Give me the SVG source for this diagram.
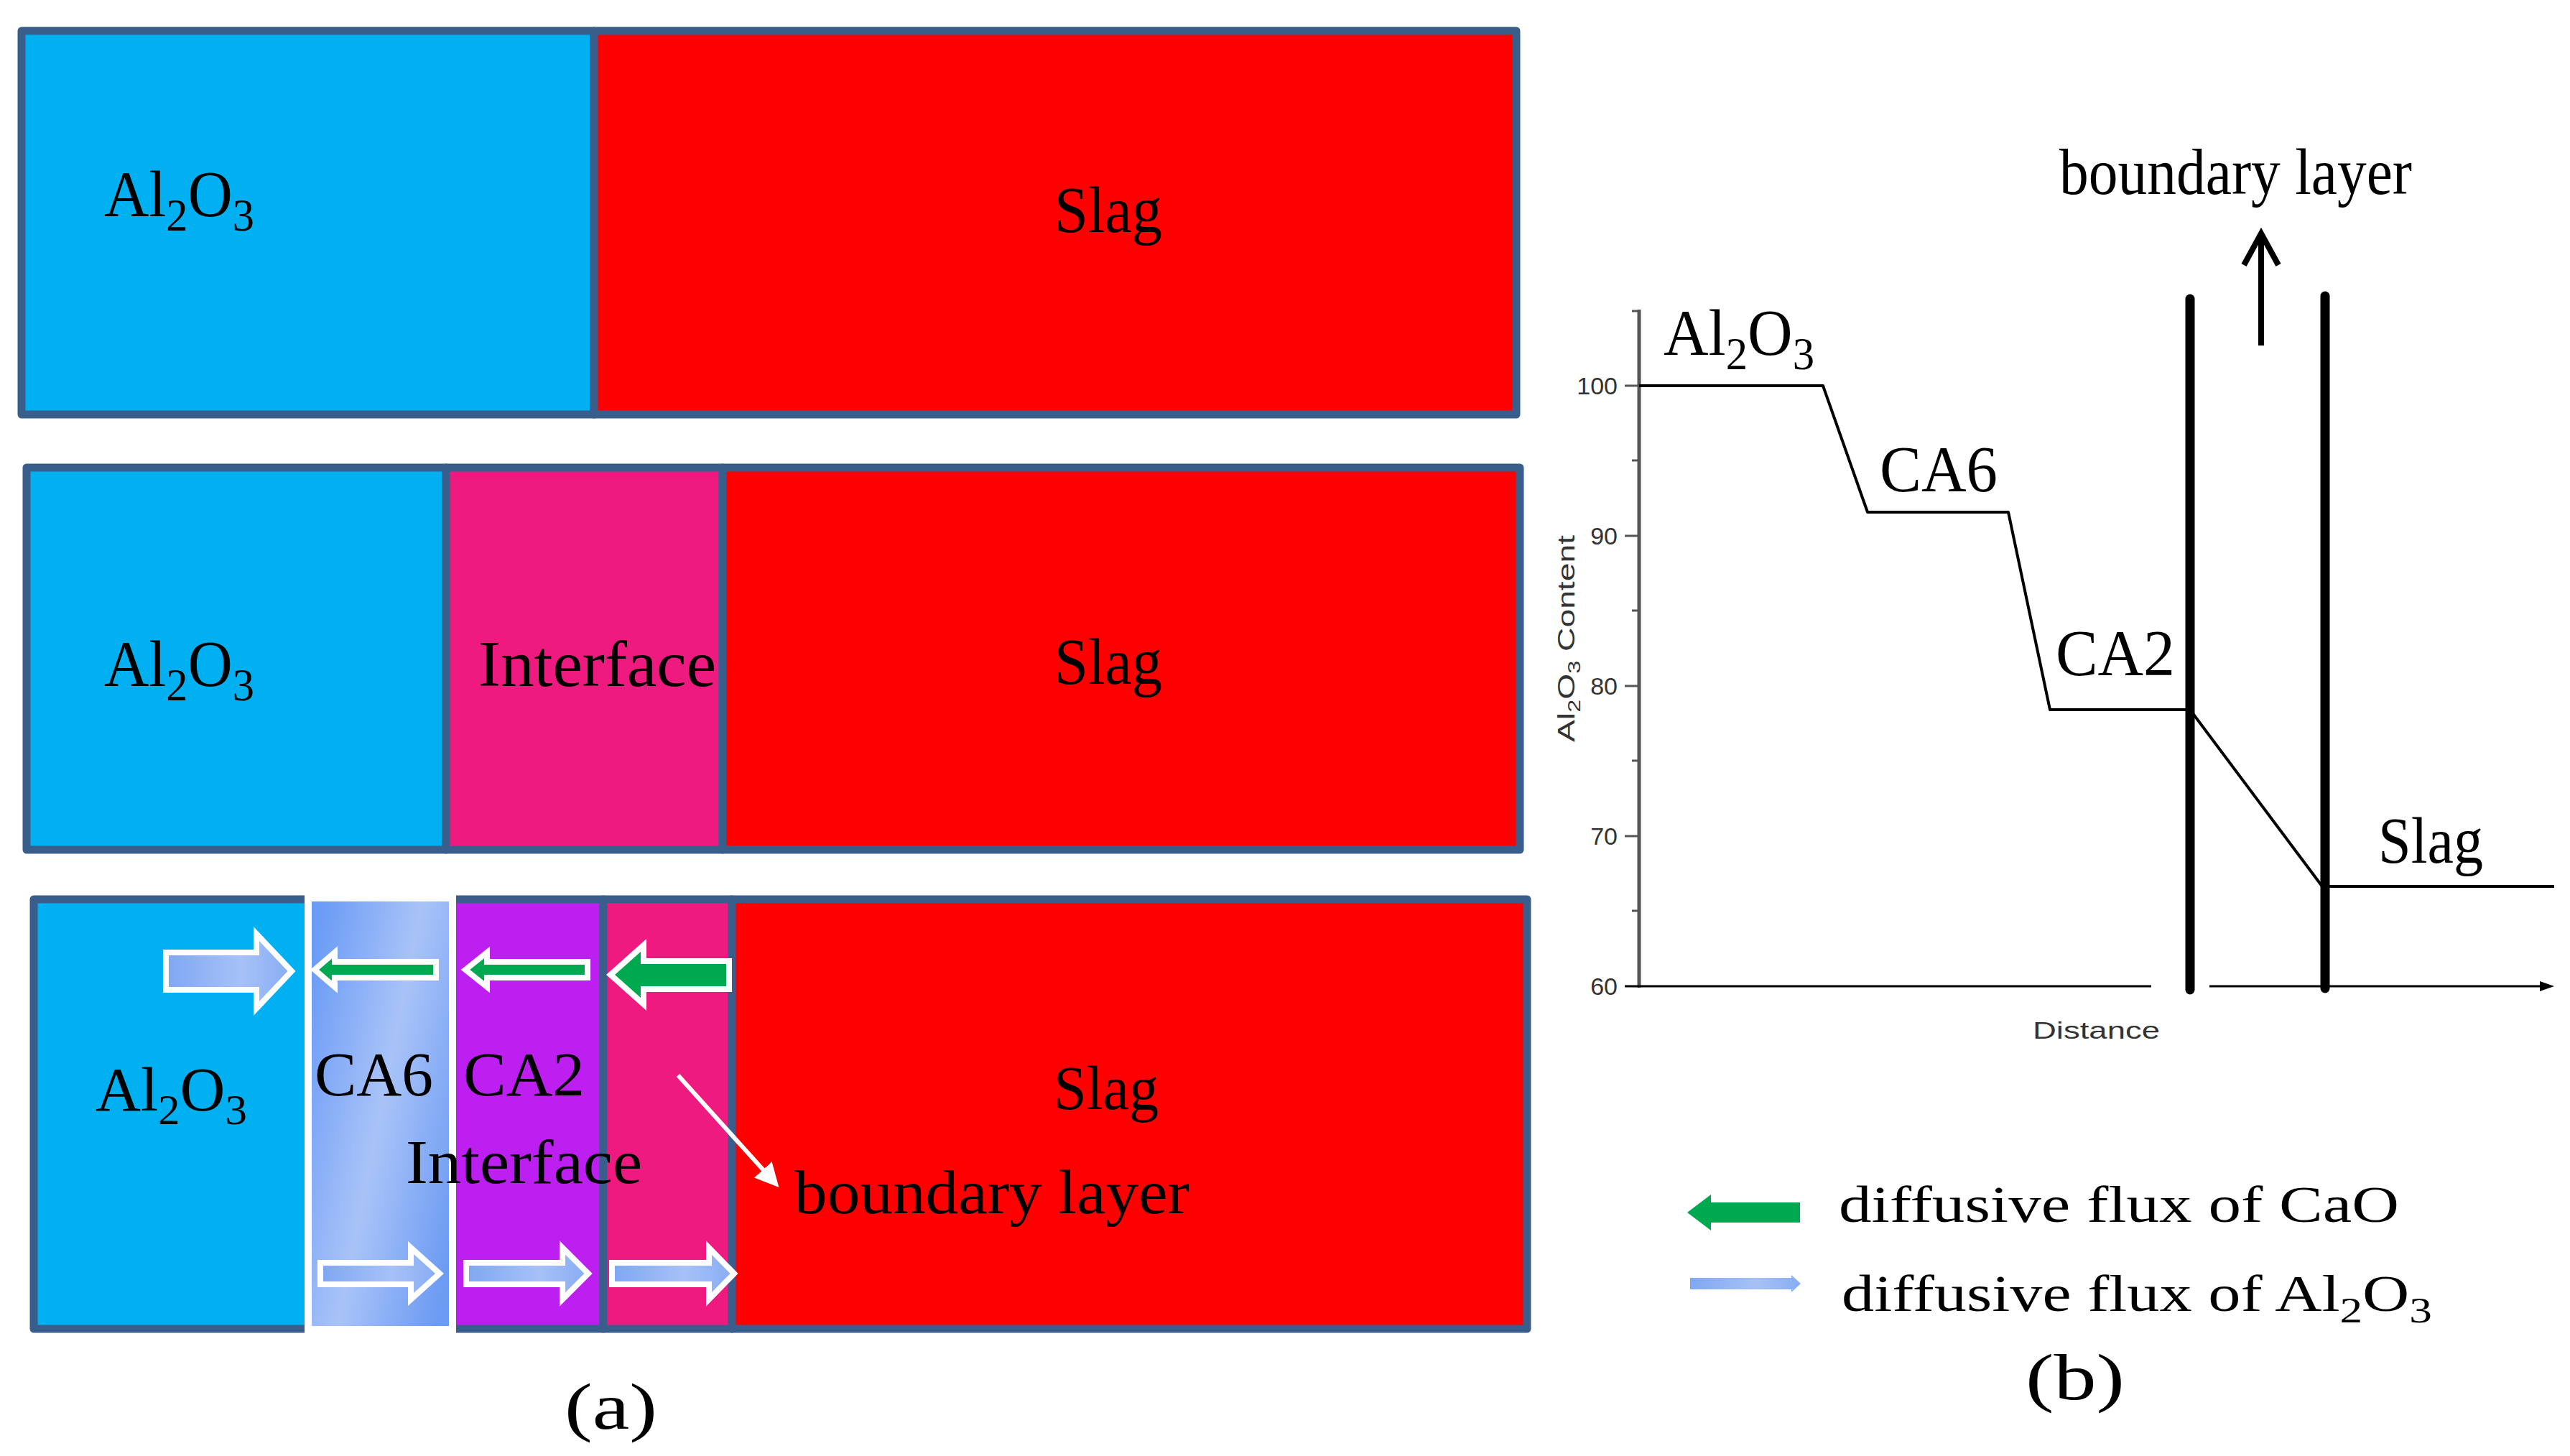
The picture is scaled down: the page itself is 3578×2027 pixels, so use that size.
<svg xmlns="http://www.w3.org/2000/svg" width="3578" height="2027" viewBox="0 0 3578 2027">
<style>
.cell{stroke:#3A5E8C;stroke-width:11;stroke-linejoin:round}
.lbl{font-family:'Liberation Serif','Times New Roman',serif;fill:#000;font-size:90px}
.lbl3{font-family:'Liberation Serif','Times New Roman',serif;fill:#000;font-size:86px}
.leg{font-family:'Liberation Serif','Times New Roman',serif;fill:#000;font-size:72px}
.sub{font-size:70%}
.tick{font-family:'Liberation Sans',Arial,sans-serif;font-size:34px;fill:#333;text-anchor:end}
.axlbl{font-family:'Liberation Sans',Arial,sans-serif;font-size:34px;fill:#333}
.gArrow{fill:#00A84F;stroke:#fff;stroke-width:8;stroke-linejoin:miter}
.bArrow{fill:url(#arrowGrad);stroke:#fff;stroke-width:8;stroke-linejoin:miter}
.curve{fill:none;stroke:#000;stroke-width:4;stroke-linejoin:round}
.thick{stroke:#000;stroke-width:13;stroke-linecap:round}
</style>
<defs>
<linearGradient id="ca6" x1="0" y1="0.2" x2="1" y2="0.8">
<stop offset="0" stop-color="#6C9CF6"/>
<stop offset="0.5" stop-color="#A9C3F8"/>
<stop offset="1" stop-color="#6C9BF3"/>
</linearGradient>
<linearGradient id="arrowGrad" x1="0" y1="0" x2="1" y2="0">
<stop offset="0" stop-color="#7FA7F3"/>
<stop offset="0.6" stop-color="#A7C1F7"/>
<stop offset="1" stop-color="#86ACF4"/>
</linearGradient>
<marker id="whiteHead" viewBox="0 0 10 10" refX="8" refY="5" markerWidth="5.5" markerHeight="5.5" orient="auto" markerUnits="strokeWidth">
<path d="M0,0 L10,5 L0,10 z" fill="#fff"/>
</marker>
</defs>
<rect width="3578" height="2027" fill="#fff"/>

<g id="panel1">
<rect class="cell" x="30" y="43" width="797" height="534" fill="#00B0F0"/>
<rect class="cell" x="827" y="43" width="1284" height="534" fill="#FF0000"/>
<text class="lbl" x="145" y="301" textLength="209" lengthAdjust="spacingAndGlyphs">Al<tspan class="sub" dy="20">2</tspan><tspan dy="-20">O</tspan><tspan class="sub" dy="20">3</tspan></text>
<text class="lbl" x="1468" y="323" textLength="150" lengthAdjust="spacingAndGlyphs">Slag</text>
</g>

<g id="panel2">
<rect class="cell" x="37" y="651" width="584" height="532" fill="#00B0F0"/>
<rect class="cell" x="621" y="651" width="385" height="532" fill="#EF1A80"/>
<rect class="cell" x="1006" y="651" width="1110" height="532" fill="#FF0000"/>
<text class="lbl" x="145" y="955" textLength="209" lengthAdjust="spacingAndGlyphs">Al<tspan class="sub" dy="20">2</tspan><tspan dy="-20">O</tspan><tspan class="sub" dy="20">3</tspan></text>
<text class="lbl" x="666" y="955" textLength="331" lengthAdjust="spacingAndGlyphs">Interface</text>
<text class="lbl" x="1468" y="952" textLength="150" lengthAdjust="spacingAndGlyphs">Slag</text>
</g>

<g id="panel3">
<rect class="cell" x="47" y="1252" width="383" height="598" fill="#00B0F0"/>
<rect class="cell" x="630" y="1252" width="210" height="598" fill="#BC1FF0"/>
<rect class="cell" x="840" y="1252" width="179" height="598" fill="#EF1A80"/>
<rect class="cell" x="1019" y="1252" width="1107" height="598" fill="#FF0000"/>
<rect id="ca6-layer" x="429" y="1250" width="201" height="601" fill="url(#ca6)" stroke="#fff" stroke-width="10"/>
</g>

<g id="flux-arrows">
<polygon class="bArrow" points="231,1326 357,1326 357,1300 406,1352 357,1404 357,1378 231,1378"/>
<polygon class="gArrow" points="438,1350 466,1326 466,1339 607,1339 607,1361 466,1361 466,1374"/>
<polygon class="gArrow" points="648,1350 678,1326 678,1339 818,1339 818,1361 678,1361 678,1374"/>
<polygon class="gArrow" points="850,1357 896,1316 896,1338 1015,1338 1015,1377 896,1377 896,1398"/>
<polygon class="bArrow" points="446,1758 572,1758 572,1737 612,1773 572,1809 572,1788 446,1788"/>
<polygon class="bArrow" points="649,1758 783,1758 783,1737 819,1773 783,1809 783,1788 649,1788"/>
<polygon class="bArrow" points="852,1758 987,1758 987,1737 1022,1773 987,1809 987,1788 852,1788"/>
</g>

<g id="panel3-labels">
<text class="lbl3" x="133" y="1546" textLength="211" lengthAdjust="spacingAndGlyphs">Al<tspan class="sub" dy="19">2</tspan><tspan dy="-19">O</tspan><tspan class="sub" dy="19">3</tspan></text>
<text class="lbl3" x="438" y="1525" textLength="165" lengthAdjust="spacingAndGlyphs">CA6</text>
<text class="lbl3" x="645" y="1525" textLength="169" lengthAdjust="spacingAndGlyphs">CA2</text>
<text class="lbl3" x="565" y="1647" textLength="329" lengthAdjust="spacingAndGlyphs">Interface</text>
<text class="lbl3" x="1467" y="1544" textLength="146" lengthAdjust="spacingAndGlyphs">Slag</text>
<text class="lbl3" x="1106" y="1689" textLength="550" lengthAdjust="spacingAndGlyphs">boundary layer</text>
</g>

<g id="connectors">
<line x1="944" y1="1497" x2="1080" y2="1648" stroke="#fff" stroke-width="6" marker-end="url(#whiteHead)"/>
<line x1="3148" y1="481" x2="3148" y2="328" stroke="#000" stroke-width="8"/>
<polyline points="3124,369 3148,325 3172,369" fill="none" stroke="#000" stroke-width="8" stroke-linejoin="miter"/>
</g>

<g id="graph">
<line x1="2282" y1="431" x2="2282" y2="1375" stroke="#555" stroke-width="5"/>
<g stroke="#555" stroke-width="3">
<line x1="2262" y1="537" x2="2282" y2="537"/>
<line x1="2262" y1="746" x2="2282" y2="746"/>
<line x1="2262" y1="955" x2="2282" y2="955"/>
<line x1="2262" y1="1164" x2="2282" y2="1164"/>
<line x1="2272" y1="433" x2="2282" y2="433"/>
<line x1="2272" y1="641" x2="2282" y2="641"/>
<line x1="2272" y1="850" x2="2282" y2="850"/>
<line x1="2272" y1="1059" x2="2282" y2="1059"/>
<line x1="2272" y1="1268" x2="2282" y2="1268"/>
</g>
<line x1="2262" y1="1373" x2="2995" y2="1373" stroke="#000" stroke-width="3"/>
<line x1="3076" y1="1373" x2="3540" y2="1373" stroke="#000" stroke-width="3"/>
<polygon points="3556,1373 3536,1366 3536,1380" fill="#000"/>
<text class="tick" x="2252" y="549">100</text>
<text class="tick" x="2252" y="758">90</text>
<text class="tick" x="2252" y="967">80</text>
<text class="tick" x="2252" y="1176">70</text>
<text class="tick" x="2252" y="1385">60</text>
<text class="axlbl" transform="translate(2192,889) rotate(-90)" text-anchor="middle" font-size="32" textLength="288" lengthAdjust="spacingAndGlyphs">Al<tspan class="sub" dy="8">2</tspan><tspan dy="-8">O</tspan><tspan class="sub" dy="8">3</tspan><tspan dy="-8"> Content</tspan></text>
<text class="axlbl" x="2830" y="1446" font-size="40" textLength="177" lengthAdjust="spacingAndGlyphs">Distance</text>
<polyline class="curve" points="2282,537 2538,537 2600,713 2796,713 2854,988 3049,988 3233,1234 3556,1234"/>
<line class="thick" x1="3049" y1="416" x2="3049" y2="1378"/>
<line class="thick" x1="3237" y1="412" x2="3237" y2="1376"/>
<text class="lbl" x="2316" y="494" textLength="210" lengthAdjust="spacingAndGlyphs">Al<tspan class="sub" dy="20">2</tspan><tspan dy="-20">O</tspan><tspan class="sub" dy="20">3</tspan></text>
<text class="lbl" x="2617" y="684" textLength="164" lengthAdjust="spacingAndGlyphs">CA6</text>
<text class="lbl" x="2862" y="940" textLength="166" lengthAdjust="spacingAndGlyphs">CA2</text>
<text class="lbl" x="3311" y="1201" textLength="146" lengthAdjust="spacingAndGlyphs">Slag</text>
<text class="lbl" x="2867" y="270" font-size="84" textLength="491" lengthAdjust="spacingAndGlyphs">boundary layer</text>
</g>

<g id="legend">
<polygon points="2349,1688 2382,1663 2382,1674 2506,1674 2506,1702 2382,1702 2382,1713" fill="#00A84F"/>
<polygon points="2353,1779 2494,1779 2494,1775 2507,1787 2494,1799 2494,1795 2353,1795" fill="url(#arrowGrad)"/>
<text class="leg" x="2560" y="1701" textLength="780" lengthAdjust="spacingAndGlyphs">diffusive flux of CaO</text>
<text class="leg" x="2564" y="1825" textLength="822" lengthAdjust="spacingAndGlyphs">diffusive flux of Al<tspan class="sub" dy="16">2</tspan><tspan dy="-16">O</tspan><tspan class="sub" dy="16">3</tspan></text>
</g>

<g id="captions">
<text class="lbl" x="786" y="1989" font-size="112" textLength="129" lengthAdjust="spacingAndGlyphs">(a)</text>
<text class="lbl" x="2820" y="1948" font-size="112" textLength="138" lengthAdjust="spacingAndGlyphs">(b)</text>
</g>
</svg>
